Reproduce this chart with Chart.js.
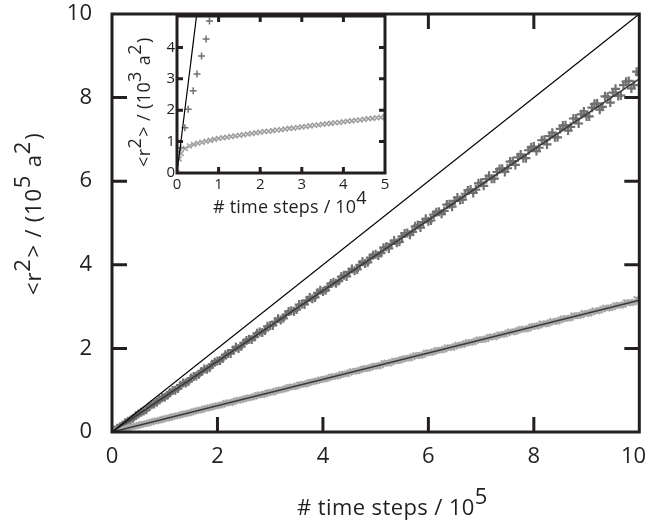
<!DOCTYPE html>
<html><head><meta charset="utf-8">
<script src="https://cdn.jsdelivr.net/npm/chart.js@4.4.0/dist/chart.umd.min.js"></script>
<style>
html,body{margin:0;padding:0;background:#fff;overflow:hidden;}
#wrap{position:relative;width:646px;height:523px;}
#main{position:absolute;left:0;top:0;width:646px;height:523px;}
#inset{position:absolute;left:100px;top:0;width:300px;height:230px;}
</style></head><body>
<div id="wrap"><canvas id="main" width="646" height="523"></canvas><canvas id="inset" width="300" height="230"></canvas></div>
<script>
// ---- main panel data (x: time steps / 1e5, y: <r^2> / 1e5 a^2)
const mainSteps = [0.1,0.2,0.3,0.4,0.5,0.6,0.7,0.8,0.9,1.0,
 1.1,1.2,1.3,1.4,1.5,1.6,1.7,1.8,1.9,2.0,
 2.1,2.2,2.3,2.4,2.5,2.6,2.7,2.8,2.9,3.0,
 3.1,3.2,3.3,3.4,3.5,3.6,3.7,3.8,3.9,4.0,
 4.1,4.2,4.3,4.4,4.5,4.6,4.7,4.8,4.9,5.0,
 5.1,5.2,5.3,5.4,5.5,5.6,5.7,5.8,5.9,6.0,
 6.1,6.2,6.3,6.4,6.5,6.6,6.7,6.8,6.9,7.0,
 7.1,7.2,7.3,7.4,7.5,7.6,7.7,7.8,7.9,8.0,
 8.1,8.2,8.3,8.4,8.5,8.6,8.7,8.8,8.9,9.0,
 9.1,9.2,9.3,9.4,9.5,9.6,9.7,9.8,9.9,10.0];
const mainStepsHalf = [0.05,0.15,0.25,0.35,0.45,0.55,0.65,0.75,0.85,0.95,
 1.05,1.15,1.25,1.35,1.45,1.55,1.65,1.75,1.85,1.95,
 2.05,2.15,2.25,2.35,2.45,2.55,2.65,2.75,2.85,2.95,
 3.05,3.15,3.25,3.35,3.45,3.55,3.65,3.75,3.85,3.95,
 4.05,4.15,4.25,4.35,4.45,4.55,4.65,4.75,4.85,4.95,
 5.05,5.15,5.25,5.35,5.45,5.55,5.65,5.75,5.85,5.95,
 6.05,6.15,6.25,6.35,6.45,6.55,6.65,6.75,6.85,6.95,
 7.05,7.15,7.25,7.35,7.45,7.55,7.65,7.75,7.85,7.95,
 8.05,8.15,8.25,8.35,8.45,8.55,8.65,8.75,8.85,8.95,
 9.05,9.15,9.25,9.35,9.45,9.55,9.65,9.75,9.85,9.95];
const darkR2 = [0.09,0.16,0.26,0.33,0.43,0.50,0.60,0.67,0.77,0.83,
 0.94,1.00,1.12,1.17,1.29,1.34,1.45,1.50,1.62,1.70,
 1.76,1.88,1.96,2.00,2.13,2.22,2.27,2.39,2.43,2.55,
 2.64,2.68,2.81,2.90,2.93,3.06,3.15,3.19,3.33,3.36,
 3.47,3.58,3.61,3.75,3.83,3.86,4.00,4.03,4.17,4.25,
 4.28,4.43,4.50,4.53,4.68,4.76,4.79,4.95,5.02,5.04,
 5.20,5.27,5.29,5.45,5.53,5.55,5.70,5.80,5.80,5.96,
 6.05,6.06,6.22,6.30,6.31,6.48,6.57,6.55,6.74,6.83,
 6.80,6.99,7.08,7.05,7.25,7.34,7.30,7.50,7.60,7.55,
 7.76,7.86,7.78,8.02,8.12,8.04,8.30,8.40,8.30,8.55];
const darkR2Half = [0.05,0.12,0.22,0.29,0.39,0.47,0.53,0.65,0.71,0.82,
 0.88,0.99,1.04,1.17,1.21,1.33,1.38,1.51,1.54,1.67,
 1.71,1.85,1.88,2.03,2.05,2.19,2.21,2.36,2.38,2.53,
 2.55,2.71,2.72,2.88,2.89,3.05,3.05,3.22,3.22,3.39,
 3.39,3.55,3.56,3.72,3.72,3.90,3.89,4.07,4.06,4.23,
 4.22,4.41,4.39,4.58,4.55,4.75,4.72,4.92,4.89,5.10,
 5.06,5.26,5.22,5.44,5.39,5.61,5.56,5.78,5.72,5.95,
 5.89,6.13,6.06,6.29,6.22,6.47,6.39,6.64,6.55,6.81,
 6.72,6.98,6.88,7.16,7.05,7.33,7.21,7.50,7.38,7.67,
 7.55,7.85,7.71,8.03,7.88,8.21,8.05,8.38,8.22,8.62];
const lightR2 = [0.03,0.07,0.09,0.13,0.16,0.19,0.22,0.26,0.28,0.32,
 0.34,0.38,0.41,0.44,0.47,0.51,0.53,0.57,0.60,0.63,
 0.66,0.70,0.72,0.76,0.79,0.82,0.85,0.89,0.91,0.95,
 0.98,1.01,1.04,1.08,1.10,1.14,1.16,1.20,1.23,1.26,
 1.29,1.33,1.35,1.39,1.42,1.45,1.48,1.52,1.54,1.58,
 1.60,1.65,1.67,1.70,1.74,1.76,1.80,1.83,1.85,1.90,
 1.92,1.96,1.98,2.02,2.05,2.08,2.12,2.14,2.18,2.21,
 2.23,2.28,2.30,2.33,2.37,2.39,2.43,2.46,2.48,2.53,
 2.55,2.58,2.62,2.64,2.68,2.72,2.73,2.78,2.80,2.83,
 2.87,2.89,2.94,2.96,2.99,3.03,3.05,3.09,3.11,3.16];
const lightR2Half = [0.02,0.05,0.08,0.12,0.14,0.18,0.20,0.24,0.27,0.30,
 0.33,0.37,0.39,0.43,0.45,0.49,0.52,0.56,0.58,0.62,
 0.64,0.69,0.70,0.75,0.77,0.81,0.83,0.88,0.89,0.94,
 0.95,1.00,1.02,1.07,1.08,1.13,1.14,1.19,1.21,1.25,
 1.27,1.32,1.33,1.38,1.39,1.45,1.46,1.51,1.52,1.57,
 1.58,1.64,1.64,1.70,1.71,1.76,1.77,1.83,1.83,1.89,
 1.90,1.95,1.96,2.02,2.02,2.08,2.09,2.14,2.15,2.21,
 2.21,2.27,2.27,2.33,2.34,2.40,2.40,2.46,2.46,2.52,
 2.53,2.59,2.59,2.65,2.65,2.71,2.72,2.78,2.78,2.84,
 2.84,2.90,2.91,2.97,2.97,3.03,3.03,3.10,3.09,3.18];
const fitX = [0, 10];
const darkFitY = [0, 8.45];
const lightFitY = [0, 3.15];
const diagX = [0, 10];
const diagY = [0, 10];
const mainXTicks = [0,2,4,6,8,10];
const mainYTicks = [0,2,4,6,8,10];

// ---- inset data (x: time steps / 1e4, y: <r^2> / 1e3 a^2)
const insetSteps = [0,0.05,0.1,0.2,0.3,0.4,0.5,0.6,0.7,0.8,0.9,1.0,
 1.1,1.2,1.3,1.4,1.5,1.6,1.7,1.8,1.9,2.0,
 2.1,2.2,2.3,2.4,2.5,2.6,2.7,2.8,2.9,3.0,
 3.1,3.2,3.3,3.4,3.5,3.6,3.7,3.8,3.9,4.0,
 4.1,4.2,4.3,4.4,4.5,4.6,4.7,4.8,4.9,5.0];
const insetLightR2 = [0.02,0.45,0.62,0.78,0.86,0.91,0.95,0.98,1.01,1.04,1.07,1.10,
 1.12,1.14,1.16,1.18,1.20,1.22,1.24,1.26,1.28,1.30,
 1.32,1.33,1.35,1.37,1.38,1.40,1.42,1.43,1.45,1.47,
 1.48,1.50,1.52,1.53,1.55,1.57,1.58,1.60,1.61,1.63,
 1.65,1.66,1.68,1.69,1.71,1.73,1.74,1.76,1.77,1.79];
const insetDarkSteps = [0.09,0.19,0.27,0.39,0.48,0.59,0.70,0.78];
const insetDarkR2 = [0.80,1.44,2.03,2.62,3.15,3.73,4.27,4.84];
const insetDiagX = [0, 0.47];
const insetDiagY = [0, 5];
const insetXTicks = [0,1,2,3,4,5];
const insetYTicks = [0,1,2,3,4];

const FONT = '"Open Sans"';
const INK = '#231f20';
const pts = (xs, ys) => xs.map((x, i) => ({x: x, y: ys[i]}));

function drawRich(ctx, parts, x, y, rot, size, raise, ls) {
  ctx.save();
  ctx.translate(x, y); ctx.rotate(rot);
  ctx.font = size + 'px ' + FONT; ctx.fillStyle = INK;
  ctx.textBaseline = 'alphabetic'; ctx.textAlign = 'left';
  if ('letterSpacing' in ctx) ctx.letterSpacing = (ls || 0) + 'px';
  let cx = 0;
  for (const [t, sup] of parts) { ctx.fillText(t, cx, sup ? -raise : 0); cx += ctx.measureText(t).width + (sup ? 1 : 0); }
  ctx.restore();
}

function framePlugin(cfg) {
  return {
    id: 'frame' + cfg.name,
    beforeDatasetsDraw(chart) {
      if (!cfg.fill) return;
      const a = chart.chartArea, ctx = chart.ctx;
      ctx.save(); ctx.fillStyle = '#fff'; ctx.fillRect(a.left, a.top, a.right - a.left, a.bottom - a.top); ctx.restore();
    },
    afterDatasetsDraw(chart) {
      const a = chart.chartArea, ctx = chart.ctx;
      const xs = chart.scales.x, ys = chart.scales.y;
      ctx.save();
      ctx.strokeStyle = INK; ctx.lineWidth = cfg.lw; ctx.lineCap = 'butt';
      ctx.beginPath();
      xs.ticks.forEach(t => {
        if (t.value <= xs.min || t.value >= xs.max) return;
        const px = xs.getPixelForValue(t.value);
        ctx.moveTo(px, a.bottom); ctx.lineTo(px, a.bottom - cfg.tl);
        ctx.moveTo(px, a.top); ctx.lineTo(px, a.top + cfg.tl);
      });
      cfg.yTicks.forEach(v => {
        if (v <= ys.min || v >= ys.max) return;
        const py = ys.getPixelForValue(v);
        ctx.moveTo(a.left, py); ctx.lineTo(a.left + cfg.tl, py);
        ctx.moveTo(a.right, py); ctx.lineTo(a.right - cfg.tl, py);
      });
      ctx.stroke();
      ctx.strokeRect(a.left, a.top, a.right - a.left, a.bottom - a.top);
      ctx.restore();
    },
    afterDraw(chart) {
      cfg.titles.forEach(tt => drawRich(chart.ctx, tt.parts, tt.x, tt.y, tt.rot, tt.size, tt.raise, tt.ls));
    }
  };
}

function makeScales(o) {
  return {
    x: {
      type: 'linear', min: o.xmin, max: o.xmax,
      afterBuildTicks: s => { s.ticks = o.xTicks.map(v => ({value: v})); },
      afterFit: s => { s.height = o.xh; s.paddingLeft = 0; s.paddingRight = 0; },
      grid: {display: false, drawTicks: false}, border: {display: false},
      ticks: {padding: o.xpad, color: INK, font: {family: FONT, size: o.fs}, maxRotation: 0, autoSkip: false,
        callback: o.xcb || (v => String(v))}
    },
    y: {
      type: 'linear', min: o.ymin, max: o.ymax,
      afterBuildTicks: s => { s.ticks = o.yTicks.map(v => ({value: v})); },
      afterFit: s => { s.width = o.yw; s.paddingTop = 0; s.paddingBottom = 0; },
      grid: {display: false, drawTicks: false}, border: {display: false},
      ticks: {padding: o.ypad, color: INK, font: {family: FONT, size: o.fs}, autoSkip: false,
        callback: v => String(v)}
    }
  };
}

function init() {
  const darkStyle = {pointStyle: 'cross', pointRadius: 4.5, borderColor: '#707070', borderWidth: 2.2, order: 3};
  const lightStyle = {pointStyle: 'crossRot', pointRadius: 4, borderColor: '#a9a9a9', borderWidth: 2.4, order: 2};
  new Chart(document.getElementById('main'), {
    type: 'scatter',
    data: {datasets: [
      {data: pts(diagX, diagY), showLine: true, borderColor: '#000', borderWidth: 1.2, pointRadius: 0, order: 0},
      {data: pts(fitX, darkFitY), showLine: true, borderColor: '#3a3a3a', borderWidth: 1.6, pointRadius: 0, order: 0},
      {data: pts(fitX, lightFitY), showLine: true, borderColor: '#3a3a3a', borderWidth: 1.6, pointRadius: 0, order: 0},
      Object.assign({data: pts(mainSteps, lightR2)}, lightStyle),
      Object.assign({data: pts(mainStepsHalf, lightR2Half)}, lightStyle),
      Object.assign({data: pts(mainSteps, darkR2)}, darkStyle),
      Object.assign({data: pts(mainStepsHalf, darkR2Half)}, darkStyle)
    ]},
    options: {
      responsive: false, animation: false, devicePixelRatio: 1,
      layout: {padding: {left: 0, right: 6, top: 14, bottom: 0}},
      plugins: {legend: {display: false}, tooltip: {enabled: false}},
      scales: makeScales({xmin: 0, xmax: 10, ymin: 0, ymax: 10, xTicks: mainXTicks, yTicks: mainYTicks,
        xh: 91, yw: 112, xpad: 12, ypad: 20, fs: 22,
        xcb: v => (v === 10 ? '10  ' : String(v))})
    },
    plugins: [framePlugin({name: 'main', lw: 3, tl: 15, yTicks: mainYTicks, fill: false, titles: [
      {parts: [['# time steps / 10', 0], ['5', 1]], x: 297, y: 515, rot: 0, size: 22, raise: 11, ls: 0.4},
      {parts: [['<r', 0], ['2', 1], ['> / (10', 0], ['5', 1], [' a', 0], ['2', 1], [')', 0]], x: 41, y: 295, rot: -Math.PI / 2, size: 22, raise: 11, ls: 0.8}
    ]})]
  });

  new Chart(document.getElementById('inset'), {
    type: 'scatter',
    data: {datasets: [
      {data: pts(insetDiagX, insetDiagY), showLine: true, borderColor: '#000', borderWidth: 1.2, pointRadius: 0, order: 0},
      {data: pts(insetSteps, insetLightR2), pointStyle: 'crossRot', pointRadius: 3.5, borderColor: '#a0a0a0', borderWidth: 1.6, order: 2},
      {data: pts(insetDarkSteps, insetDarkR2), pointStyle: 'cross', pointRadius: 3.5, borderColor: '#707070', borderWidth: 1.5, order: 1}
    ]},
    options: {
      responsive: false, animation: false, devicePixelRatio: 1,
      layout: {padding: {left: 0, right: 15, top: 16, bottom: 0}},
      plugins: {legend: {display: false}, tooltip: {enabled: false}},
      scales: makeScales({xmin: 0, xmax: 5, ymin: 0, ymax: 5, xTicks: insetXTicks, yTicks: insetYTicks,
        xh: 57, yw: 77, xpad: 3, ypad: 2, fs: 15})
    },
    plugins: [framePlugin({name: 'inset', lw: 3, tl: 6, yTicks: [0,1,2,3,4,5], fill: true, titles: [
      {parts: [['# time steps / 10', 0], ['4', 1]], x: 113, y: 213, rot: 0, size: 18, raise: 9, ls: 0.2},
      {parts: [['<r', 0], ['2', 1], ['> / (10', 0], ['3', 1], [' a', 0], ['2', 1], [')', 0]], x: 50, y: 167, rot: -Math.PI / 2, size: 18, raise: 9, ls: 0.4}
    ]})]
  });
}

if (document.fonts && document.fonts.load) {
  Promise.all([document.fonts.load('20px "Open Sans"')]).then(init, init);
} else { init(); }
</script>
</body></html>
